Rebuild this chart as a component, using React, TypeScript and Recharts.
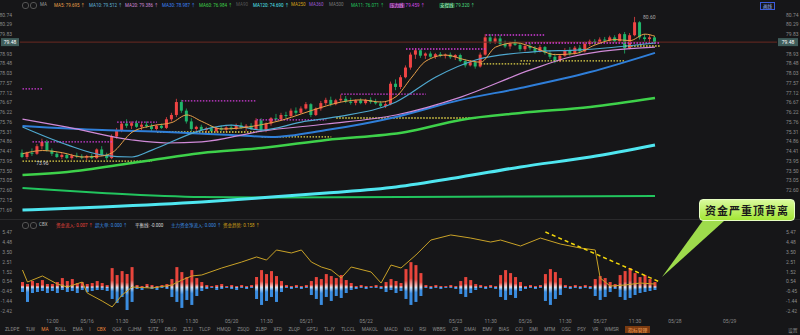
import React from 'react';
import { ComposedChart, Bar, Line, XAxis, YAxis, ReferenceLine, ReferenceDot } from 'recharts';

// 15-min candles: [open, high, low, close]
const candles: [number, number, number, number][] = [
  [74.35, 74.5, 74.1, 74.15], [74.15, 74.4, 74.05, 74.35], [74.35, 74.55, 74.2, 74.3], [74.3, 74.75, 74.25, 74.65],
  [74.65, 75.0, 74.5, 74.85], [74.85, 74.95, 74.4, 74.45], [74.45, 74.55, 74.2, 74.3], [74.3, 74.4, 74.1, 74.15],
  [74.15, 74.35, 74.05, 74.25], [74.25, 74.3, 74.05, 74.1], [74.1, 74.3, 74.02, 74.22], [74.22, 74.35, 74.1, 74.18],
  [74.18, 74.28, 74.05, 74.12], [74.12, 74.25, 74.0, 74.2], [74.2, 74.3, 74.05, 74.1], [74.1, 74.55, 74.05, 74.5],
  [74.5, 74.65, 74.2, 74.25], [74.25, 74.35, 74.0, 74.1], [74.1, 75.2, 74.05, 75.1], [75.1, 75.5, 75.0, 75.4],
  [75.4, 75.8, 75.3, 75.7], [75.7, 75.9, 75.5, 75.6], [75.6, 75.8, 75.45, 75.72], [75.72, 75.85, 75.5, 75.55],
  [75.55, 75.75, 75.4, 75.65], [75.65, 75.8, 75.5, 75.58], [75.58, 75.7, 75.35, 75.45], [75.45, 75.65, 75.38, 75.6],
  [75.6, 75.7, 75.45, 75.5], [75.5, 76.0, 75.45, 75.9], [75.9, 76.2, 75.8, 76.1], [76.1, 76.85, 76.0, 76.7],
  [76.7, 76.8, 76.2, 76.3], [76.3, 76.4, 75.7, 75.8], [75.8, 75.95, 75.35, 75.45], [75.45, 75.6, 75.3, 75.55],
  [75.55, 75.65, 75.35, 75.4], [75.4, 75.55, 75.25, 75.48], [75.48, 75.6, 75.3, 75.35], [75.35, 75.55, 75.28, 75.5],
  [75.5, 75.62, 75.35, 75.42], [75.42, 75.58, 75.3, 75.52], [75.52, 75.65, 75.38, 75.45], [75.45, 75.7, 75.4, 75.62],
  [75.62, 75.75, 75.45, 75.5], [75.5, 75.68, 75.35, 75.6], [75.6, 75.72, 75.4, 75.45], [75.45, 75.95, 75.4, 75.85],
  [75.85, 75.95, 75.3, 75.4], [75.4, 75.75, 75.3, 75.7], [75.7, 76.0, 75.6, 75.95], [75.95, 76.15, 75.8, 75.9],
  [75.9, 76.2, 75.85, 76.1], [76.1, 76.25, 75.95, 76.05], [76.05, 76.4, 76.0, 76.3], [76.3, 76.45, 76.1, 76.2],
  [76.2, 76.5, 76.15, 76.4], [76.4, 76.7, 76.35, 76.6], [76.6, 76.65, 76.0, 76.1], [76.1, 76.45, 76.05, 76.4],
  [76.4, 76.75, 76.3, 76.65], [76.65, 76.9, 76.55, 76.8], [76.8, 76.95, 76.5, 76.6], [76.6, 76.85, 76.55, 76.78],
  [76.78, 77.05, 76.7, 76.85], [76.85, 76.98, 76.65, 76.72], [76.72, 76.9, 76.58, 76.66], [76.66, 76.82, 76.55, 76.78],
  [76.78, 76.88, 76.6, 76.65], [76.65, 76.85, 76.58, 76.8], [76.8, 76.92, 76.62, 76.7], [76.7, 76.85, 76.58, 76.64],
  [76.64, 76.75, 76.45, 76.52], [76.52, 76.7, 76.42, 76.6], [76.6, 77.65, 76.55, 77.55], [77.55, 77.75, 77.25, 77.4],
  [77.4, 77.95, 77.3, 77.85], [77.85, 78.4, 77.8, 78.3], [78.3, 79.0, 78.2, 78.9], [78.9, 79.2, 78.7, 79.1],
  [79.1, 79.15, 78.75, 78.85], [78.85, 79.0, 78.7, 78.95], [78.95, 79.05, 78.75, 78.8], [78.8, 78.98, 78.7, 78.92],
  [78.92, 79.02, 78.78, 78.85], [78.85, 78.95, 78.72, 78.9], [78.9, 79.0, 78.7, 78.78], [78.78, 78.92, 78.65, 78.88],
  [78.88, 78.95, 78.55, 78.6], [78.6, 78.7, 78.3, 78.4], [78.4, 78.65, 78.35, 78.55], [78.55, 78.6, 78.25, 78.35],
  [78.35, 79.0, 78.3, 78.9], [78.9, 79.85, 78.85, 79.7], [79.7, 79.85, 79.4, 79.5], [79.5, 79.75, 79.4, 79.65],
  [79.65, 79.8, 79.3, 79.4], [79.4, 79.55, 79.2, 79.28], [79.28, 79.5, 79.15, 79.42], [79.42, 79.6, 79.3, 79.35],
  [79.35, 79.45, 79.05, 79.15], [79.15, 79.4, 79.05, 79.3], [79.3, 79.45, 79.1, 79.2], [79.2, 79.3, 78.95, 79.05],
  [79.05, 79.35, 79.0, 79.25], [79.25, 79.3, 78.9, 78.98], [78.98, 79.1, 78.7, 78.8], [78.8, 78.95, 78.5, 78.62],
  [78.62, 78.9, 78.55, 78.85], [78.85, 79.2, 78.8, 79.1], [79.1, 79.25, 78.85, 78.95], [78.95, 79.3, 78.9, 79.22],
  [79.22, 79.35, 78.95, 79.05], [79.05, 79.5, 79.0, 79.4], [79.4, 79.6, 79.3, 79.52], [79.52, 79.62, 79.35, 79.45],
  [79.45, 79.7, 79.4, 79.6], [79.6, 79.72, 79.45, 79.55], [79.55, 79.78, 79.5, 79.7], [79.7, 79.8, 79.45, 79.52],
  [79.52, 79.9, 79.48, 79.85], [79.85, 79.95, 78.95, 79.2], [79.2, 79.9, 79.15, 79.8], [79.8, 80.65, 79.75, 80.4],
  [80.4, 80.45, 79.6, 79.7], [79.7, 79.85, 79.5, 79.62], [79.62, 79.8, 79.45, 79.7], [79.7, 79.75, 79.4, 79.48],
];

// moving averages, [candle index, value]
const ma5: [number, number][] = [[0, 74.3], [4, 74.45], [8, 74.35], [12, 74.15], [16, 74.2], [18, 74.35], [22, 75.3], [26, 75.6], [30, 75.75], [33, 76.1], [36, 75.8], [40, 75.45], [44, 75.5], [48, 75.65], [52, 75.85], [56, 76.15], [60, 76.45], [64, 76.7], [68, 76.8], [72, 76.7], [75, 76.95], [78, 77.8], [81, 78.6], [85, 78.88], [89, 78.65], [92, 78.55], [95, 79.25], [99, 79.45], [103, 79.2], [107, 78.9], [111, 78.95], [115, 79.35], [119, 79.6], [122, 79.55], [125, 79.85], [127, 79.75]];
const ma10: [number, number][] = [[0, 75.54], [9, 74.71], [16, 74.24], [22, 74.15], [26, 74.47], [36, 75.4], [42, 75.63], [48, 75.4], [56, 75.77], [63, 76.01], [75, 76.7], [83, 77.86], [91, 78.65], [102, 79.02], [112, 79.12], [127, 79.44]];
const ma20: [number, number][] = [[0, 75.91], [9, 75.54], [22, 74.94], [29, 74.8], [36, 74.85], [48, 75.35], [61, 75.68], [75, 76.1], [88, 76.93], [102, 78.19], [110, 78.79], [127, 79.25]];
const ma30: [number, number][] = [[0, 75.59], [16, 75.4], [29, 75.31], [42, 75.17], [50, 75.08], [61, 75.4], [75, 76.01], [88, 76.8], [100, 77.35], [114, 78.09], [127, 78.98]];
const ma60: [number, number][] = [[0, 73.31], [9, 73.45], [22, 73.87], [36, 74.34], [48, 74.57], [61, 74.94], [77, 75.31], [88, 75.87], [100, 76.19], [114, 76.47], [127, 76.89]];
const ma120: [number, number][] = [[0, 71.69], [16, 71.83], [36, 72.06], [50, 72.29], [61, 72.48], [75, 72.76], [88, 73.22], [100, 73.69], [114, 74.15], [127, 74.71]];
const ma11: [number, number][] = [[0, 72.71], [16, 72.48], [36, 72.29], [50, 72.27], [76, 72.29], [100, 72.32], [127, 72.34]];

// pressure (magenta) and support (yellow) levels: [from, to, price]
const pressure: [number, number, number][] = [[0, 4, 77.31], [2, 18, 74.85], [19, 27, 75.77], [32, 47, 76.75], [47, 61, 75.87], [64, 81, 77.07], [77, 93, 79.16], [93, 105, 79.81], [101, 128, 79.44]];
const support: [number, number, number][] = [[0, 26, 73.96], [27, 47, 75.31], [48, 62, 75.08], [63, 91, 75.96], [92, 102, 78.47], [100, 121, 78.61], [121, 128, 79.3]];

const leftPriceTicks = [80.74, 80.29, 79.83, 78.93, 78.48, 78.03, 77.57, 77.12, 76.67, 76.22, 75.76, 75.31, 74.86, 74.41, 73.95, 73.5, 73.05, 72.6, 72.15, 71.69];
const rightPriceTicks = [80.74, 80.29, 79.83, 78.93, 78.48, 78.03, 77.57, 77.12, 76.67, 76.22, 75.76, 75.31, 74.86, 74.41, 73.95, 73.5, 73.05, 72.6];
const lastPrice = 79.48;

// CBX fund flow
const flowIn = [0.5, 0.3, 0.6, 0.4, 0.7, 0.3, 0.3, 0.5, 0.9, 0.6, 0.8, 0.4, 0.5, 0.3, 0.4, 0.6, 0.4, 0.2, 1.9, 1.2, 1.6, 1.3, 2.0, 0.2, 0.1, 0.3, 0.2, 0.1, 0.2, 0.3, 0.8, 2.0, 1.5, 1.0, 1.7, 0.9, 0.5, 0.2, 0.1, 0.2, 0.3, 0.1, 0.2, 0.1, 0.2, 0.1, 0.2, 1.0, 1.7, 1.3, 1.6, 1.1, 0.6, 0.2, 0.1, 0.2, 0.1, 0.2, 0.6, 1.0, 0.8, 1.3, 1.1, 0.9, 1.2, 0.7, 0.4, 0.1, 0.2, 0.1, 0.1, 0.2, 0.1, 0.5, 0.8, 0.6, 0.4, 1.8, 2.5, 2.2, 1.4, 0.2, 0.1, 0.2, 0.1, 0.1, 0.2, 0.1, 0.6, 1.0, 0.7, 0.3, 0.2, 0.1, 0.2, 0.1, 1.2, 1.7, 1.4, 1.0, 0.5, 0.1, 0.2, 0.1, 0.2, 1.3, 1.8, 1.5, 0.9, 0.2, 0.1, 0.2, 0.1, 0.2, 0.1, 0.8, 1.1, 0.9, 0.5, 0.3, 1.2, 1.6, 1.9, 1.4, 1.0, 1.2, 0.8, 0.5];
const flowOut = [-0.5, -1.5, -0.6, -0.5, -0.4, -0.6, -0.4, -0.6, -0.3, -0.5, -0.4, -0.6, -0.3, -0.5, -0.4, -0.3, -0.3, -0.4, -1.2, -1.6, -1.0, -2.3, -1.5, -0.2, -0.3, -0.1, -0.2, -0.3, -0.1, -0.2, -1.0, -1.5, -2.1, -1.3, -1.8, -0.9, -0.4, -0.2, -0.1, -0.3, -0.2, -0.1, -0.2, -0.3, -0.1, -0.2, -0.1, -1.2, -1.8, -1.4, -1.0, -1.5, -0.5, -0.1, -0.2, -0.1, -0.2, -0.1, -0.8, -1.2, -1.8, -1.0, -1.4, -0.9, -1.1, -0.6, -0.3, -0.2, -0.1, -0.2, -0.1, -0.1, -0.2, -0.5, -0.3, -0.6, -0.4, -1.2, -1.8, -1.5, -0.9, -0.1, -0.2, -0.1, -0.2, -0.1, -0.1, -0.2, -0.7, -1.0, -0.6, -0.3, -0.1, -0.2, -0.1, -0.2, -1.0, -1.3, -0.8, -1.1, -0.4, -0.2, -0.1, -0.2, -0.1, -1.4, -1.8, -1.2, -0.8, -0.1, -0.2, -0.1, -0.2, -0.1, -0.2, -0.9, -1.3, -1.0, -0.5, -0.2, -1.0, -1.3, -1.1, -0.8, -0.6, -0.5, -0.4, -0.3];
const trend: [number, number][] = [[0, 1.71], [1, 0.5], [4, 1.11], [7, 0.3], [9, 0.0], [12, 0.5], [13, -0.6], [16, -1.41], [18, -2.0], [20, -0.8], [22, 0], [26, -0.1], [30, 0.2], [32, 0.7], [34, 1.11], [36, 1.21], [40, 1.91], [44, 2.51], [47, 3.02], [49, 2.71], [51, 3.72], [54, 3.42], [56, 3.72], [58, 2.51], [60, 2.01], [62, 1.71], [64, 0.9], [66, 2.01], [70, 1.51], [72, 0.4], [74, 2.21], [76, 1.91], [79, 3.22], [82, 4.72], [86, 5.23], [90, 4.92], [94, 4.52], [96, 4.72], [100, 4.12], [104, 4.92], [108, 4.32], [112, 3.92], [115, 3.72], [116, 0.9], [118, 0.1], [121, 0.2], [124, 0.4], [127, 0.3]];
const flowTicks = [5.47, 4.48, 3.5, 2.51, 1.52, 0.54, -0.45, -1.44, -2.42];

const timeTickIdx = [6, 13, 20, 27, 34, 42, 49, 57, 69, 87, 94, 101, 109, 116, 123, 131, 142];
const timeTickLabels = ['12:00', '05/16', '11:30', '05/19', '11:30', '05/20', '11:30', '05/21', '05/22', '05/23', '11:30', '05/26', '11:30', '05/27', '11:30', '05/28', '05/29'];

const maLegend = [
  { t: 'MA', c: '#9a9a9a', x: 40 }, { t: 'MA5: 79.695 ↑', c: '#e8a04a', x: 54 }, { t: 'MA10: 79.512 ↑', c: '#5fb3d9', x: 89 },
  { t: 'MA20: 79.386 ↑', c: '#d08ad8', x: 125 }, { t: 'MA30: 78.987 ↑', c: '#3b82f6', x: 162 }, { t: 'MA60: 76.984 ↑', c: '#3ed14a', x: 199 },
  { t: 'MA90', c: '#555', x: 236 }, { t: 'MA120: 74.690 ↑', c: '#4fe6f0', x: 253 }, { t: 'MA250', c: '#d4a017', x: 291 },
  { t: 'MA360', c: '#9b59d0', x: 309 }, { t: 'MA500', c: '#777', x: 329 }, { t: 'MA11: 76.071 ↑', c: '#22c55e', x: 351 },
];
const flowLegend = [
  { t: 'CBX', c: '#bbb', x: 39 }, { t: '资金流入: 0.007 ↑', c: '#e8453c', x: 56 }, { t: '超大单: 0.000 ↑', c: '#3b8de0', x: 95 },
  { t: '平衡线: -0.000', c: '#ddd', x: 135 }, { t: '主力资金净流入: 0.000 ↑', c: '#3b8de0', x: 171 }, { t: '资金趋势: 0.158 ↑', c: '#d4a017', x: 223 },
];
const tabs = ['ZLDPE', 'TLW', 'MA', 'BOLL', 'EMA', 'I', 'CBX', 'QGX', 'CJHM', 'TJTZ', 'DBJD', 'ZLTJ', 'TLCP', 'HMQD', 'ZSQD', 'ZLBP', 'XFD', 'ZLQP', 'GPTJ', 'TLJY', 'TLCCL', 'MAKOL', 'MACD', 'KDJ', 'RSI', 'WBBS', 'CR', 'DMAI', 'EMV', 'BIAS', 'CCI', 'DMI', 'MTM', 'OSC', 'PSY', 'VR', 'WMSR'];

const SLOTS = 152;
const RED = '#ef4444';
const GREEN = '#1fb56a';
const BG = '#161618';
const FONT = 'Roboto, "Noto Sans CJK SC", sans-serif';

const mainData: any[] = Array.from({ length: SLOTS }, (_, i) => {
  const c = candles[i];
  return c ? { i, o: c[0], h: c[1], l: c[2], c: c[3], range: [c[2], c[1]] } : { i };
});
const putPts = (key: string, pts: [number, number][], rows: any[]) => pts.forEach(([i, v]) => { rows[i][key] = v; });
putPts('ma5', ma5, mainData);
putPts('ma10', ma10, mainData);
putPts('ma20', ma20, mainData);
putPts('ma30', ma30, mainData);
putPts('ma60', ma60, mainData);
putPts('ma120', ma120, mainData);
putPts('ma11', ma11, mainData);

const subData: any[] = Array.from({ length: SLOTS }, (_, i) => (i < flowIn.length ? { i, up: flowIn[i], dn: flowOut[i] } : { i }));
putPts('trend', trend, subData);

const Candle = (props: any) => {
  const { x, y, width, height, payload } = props;
  if (!payload || payload.o == null) return <g />;
  const { o, h, l, c } = payload;
  const color = c >= o ? RED : GREEN;
  const k = h === l ? 0 : height / (h - l);
  const yo = y + (h - o) * k;
  const yc = y + (h - c) * k;
  const cx = x + width / 2;
  const bw = Math.max(width - 1, 1);
  return (
    <g>
      <line x1={cx} x2={cx} y1={y} y2={y + height} stroke={color} strokeWidth={0.8} />
      <rect x={cx - bw / 2} y={Math.min(yo, yc)} width={bw} height={Math.max(Math.abs(yo - yc), 0.8)} fill={color} />
    </g>
  );
};

// price tag drawn on both sides of the last-price line
const PriceTag = (props: any) => {
  const { x, y, width } = props.viewBox;
  const txt = lastPrice.toFixed(2);
  return (
    <g fontFamily={FONT} fontSize={5}>
      <rect x={1} y={y - 4} width={18} height={8} fill="#3f5d5b" />
      <text x={10} y={y + 2} fill="#fff" textAnchor="middle">{txt}</text>
      <rect x={x + width + 1} y={y - 4} width={20} height={8} fill="#3f5d5b" />
      <text x={x + width + 11} y={y + 2} fill="#fff" textAnchor="middle">{txt}</text>
    </g>
  );
};

const tick = { fontSize: 5, fill: '#8a8a8a', fontFamily: FONT };

const lineProps = { yAxisId: 'p', dot: false, connectNulls: true, isAnimationActive: false, type: 'monotone' as const };

function Pill({ t, c, bg }: { t: string; c: string; bg: string }) {
  return <span style={{ background: bg, color: c, padding: '0 1px', borderRadius: 1 }}>{t}</span>;
}

export default function App() {
  return (
    <div style={{ position: 'fixed', left: 0, top: 0, width: 800, height: 335, background: BG, overflow: 'hidden', fontFamily: FONT }}>
      <span style={{ position: 'absolute', top: 2, left: 22, width: 5, height: 5, borderRadius: 3, border: '1px solid #555' }} />
      <span style={{ position: 'absolute', top: 2, left: 30, width: 5, height: 5, borderRadius: 3, border: '1px solid #555' }} />
      {maLegend.map((m) => (
        <span key={m.t} style={{ position: 'absolute', top: 2, left: m.x, fontSize: 4.5, color: m.c, whiteSpace: 'nowrap' }}>{m.t}</span>
      ))}
      <span style={{ position: 'absolute', top: 2, left: 389, fontSize: 4.5, color: '#d946ef', whiteSpace: 'nowrap' }}><Pill t="压力线" c="#f0abfc" bg="#5b1d63" /> 79.459 ↑</span>
      <span style={{ position: 'absolute', top: 2, left: 439, fontSize: 4.5, color: '#4ade80', whiteSpace: 'nowrap' }}><Pill t="支撑线" c="#bbf7d0" bg="#14532d" /> 79.320 ↑</span>
      <div style={{ position: 'absolute', top: 2, left: 760, fontSize: 4.5, color: '#9ab8ff', border: '1px solid #3b5bdb', padding: '0 2px' }}>画线</div>

      <div style={{ position: 'absolute', top: 0, left: 0 }}>
        <ComposedChart width={800} height={218} data={mainData} margin={{ top: 10, right: 0, bottom: 0, left: 0 }}>
          <XAxis dataKey="i" hide />
          <YAxis yAxisId="pl" orientation="left" width={20} domain={[71.32, 80.97]} ticks={leftPriceTicks} interval={0} allowDataOverflow axisLine={false} tickLine={false} tick={tick} tickMargin={2} tickFormatter={(v) => v.toFixed(2)} />
          <YAxis yAxisId="p" orientation="right" width={23} domain={[71.32, 80.97]} ticks={rightPriceTicks} interval={0} allowDataOverflow axisLine={false} tickLine={false} tick={tick} tickMargin={3} tickFormatter={(v) => v.toFixed(2)} />
          <ReferenceLine yAxisId="p" y={lastPrice} stroke="#6b2a22" strokeWidth={1} label={<PriceTag />} />
          {pressure.map(([a, b, v]) => (
            <ReferenceLine key={`p${a}`} yAxisId="p" segment={[{ x: a, y: v }, { x: b, y: v }]} stroke="#d23cd9" strokeWidth={1.3} strokeDasharray="1.5 1.5" />
          ))}
          {support.map(([a, b, v]) => (
            <ReferenceLine key={`s${a}`} yAxisId="p" segment={[{ x: a, y: v }, { x: b, y: v }]} stroke="#e6d84a" strokeWidth={1.3} strokeDasharray="1.5 1.5" />
          ))}
          <Line {...lineProps} dataKey="ma11" stroke="#22c55e" strokeWidth={2} />
          <Line {...lineProps} dataKey="ma120" stroke="#4fe6f0" strokeWidth={3} />
          <Line {...lineProps} dataKey="ma60" stroke="#3ed14a" strokeWidth={2.5} />
          <Line {...lineProps} dataKey="ma30" stroke="#2f7ed8" strokeWidth={2} />
          <Line {...lineProps} dataKey="ma20" stroke="#d08ad8" strokeWidth={1.2} />
          <Line {...lineProps} dataKey="ma10" stroke="#4fa8cf" strokeWidth={1.2} />
          <Bar yAxisId="p" dataKey="range" barSize={4} shape={<Candle />} isAnimationActive={false} />
          <Line {...lineProps} dataKey="ma5" stroke="#e8a04a" strokeWidth={1} />
          <ReferenceDot yAxisId="p" x={123} y={80.65} r={0} fill="none" stroke="none" label={{ value: '80.60', position: 'right', fill: '#aaa', fontSize: 5, offset: 8 }} />
          <ReferenceDot yAxisId="p" x={4} y={73.85} r={0} fill="none" stroke="none" label={{ value: '73.96', position: 'center', fill: '#ccc', fontSize: 5 }} />
        </ComposedChart>
      </div>

      <div style={{ position: 'absolute', top: 219, left: 0, width: 800, height: 1, background: '#2a2a2c' }} />

      <div style={{ position: 'absolute', top: 220, left: 0 }}>
        <svg width={0} height={0} style={{ position: 'absolute' }}>
          <defs>
            <linearGradient id="gUp" x1="0" y1="0" x2="0" y2="1">
              <stop offset="0%" stopColor="#e8453c" />
              <stop offset="65%" stopColor="#e8453c" />
              <stop offset="100%" stopColor="#f6d2d2" />
            </linearGradient>
            <linearGradient id="gDn" x1="0" y1="0" x2="0" y2="1">
              <stop offset="0%" stopColor="#dbe9fb" />
              <stop offset="35%" stopColor="#3b8de0" />
              <stop offset="100%" stopColor="#3b8de0" />
            </linearGradient>
          </defs>
        </svg>
        <ComposedChart width={800} height={106} data={subData} margin={{ top: 8, right: 0, bottom: 0, left: 0 }} stackOffset="sign" barCategoryGap={1}>
          <XAxis dataKey="i" ticks={timeTickIdx} interval={0} height={14} axisLine={false} tickLine={false} tick={tick} tickMargin={1} tickFormatter={(v) => timeTickLabels[timeTickIdx.indexOf(v)] ?? ''} />
          <YAxis yAxisId="fl" orientation="left" width={20} domain={[-2.51, 5.93]} ticks={flowTicks} interval={0} allowDataOverflow axisLine={false} tickLine={false} tick={tick} tickMargin={2} tickFormatter={(v) => v.toFixed(2)} />
          <YAxis yAxisId="f" orientation="right" width={23} domain={[-2.51, 5.93]} ticks={flowTicks} interval={0} allowDataOverflow axisLine={false} tickLine={false} tick={tick} tickMargin={3} tickFormatter={(v) => v.toFixed(2)} />
          <Bar yAxisId="f" dataKey="up" stackId="s" fill="url(#gUp)" barSize={3} isAnimationActive={false} />
          <Bar yAxisId="f" dataKey="dn" stackId="s" fill="url(#gDn)" barSize={3} isAnimationActive={false} />
          <Line yAxisId="f" dataKey="trend" type="linear" stroke="#c9a227" strokeWidth={1} dot={false} connectNulls isAnimationActive={false} />
          <ReferenceLine yAxisId="f" segment={[{ x: 105, y: 5.53 }, { x: 128, y: 0.5 }]} stroke="#f5d90a" strokeWidth={1.5} strokeDasharray="4 3" />
        </ComposedChart>
      </div>

      <span style={{ position: 'absolute', top: 222, left: 22, width: 5, height: 5, borderRadius: 3, border: '1px solid #555' }} />
      <span style={{ position: 'absolute', top: 222, left: 30, width: 5, height: 5, borderRadius: 3, border: '1px solid #555' }} />
      {flowLegend.map((m) => (
        <span key={m.t} style={{ position: 'absolute', top: 222, left: m.x, fontSize: 4.5, color: m.c, whiteSpace: 'nowrap' }}>{m.t}</span>
      ))}

      <div style={{ position: 'absolute', top: 326, left: 5, display: 'flex', gap: 6.3, fontSize: 4.8, color: '#8a8a8a', whiteSpace: 'nowrap', alignItems: 'center' }}>
        {tabs.map((t) => <span key={t} style={{ color: t === 'MA' || t === 'CBX' ? '#e8843a' : '#8a8a8a' }}>{t}</span>)}
        <span style={{ background: '#7a3a10', color: '#f5a15a', padding: '0 3px' }}>指标管理</span>
      </div>
      <div style={{ position: 'absolute', top: 326, left: 788, fontSize: 4.8, color: '#8a8a8a' }}>设置</div>

      <svg width={800} height={335} style={{ position: 'absolute', left: 0, top: 0, pointerEvents: 'none' }}>
        <polygon points="704,219 724,221 662,277" fill="#9edb4c" />
      </svg>
      <div style={{ position: 'absolute', left: 699, top: 199, width: 96, height: 22, borderRadius: 4, background: 'linear-gradient(#d9f99d, #a3e635)', border: '1px solid #e6ffc2', boxSizing: 'border-box', display: 'flex', alignItems: 'center', justifyContent: 'center', color: '#1a1a1a', fontSize: 11, fontWeight: 700, letterSpacing: 1, fontFamily: '"Noto Sans CJK SC", sans-serif' }}>
        资金严重顶背离
      </div>
    </div>
  );
}
